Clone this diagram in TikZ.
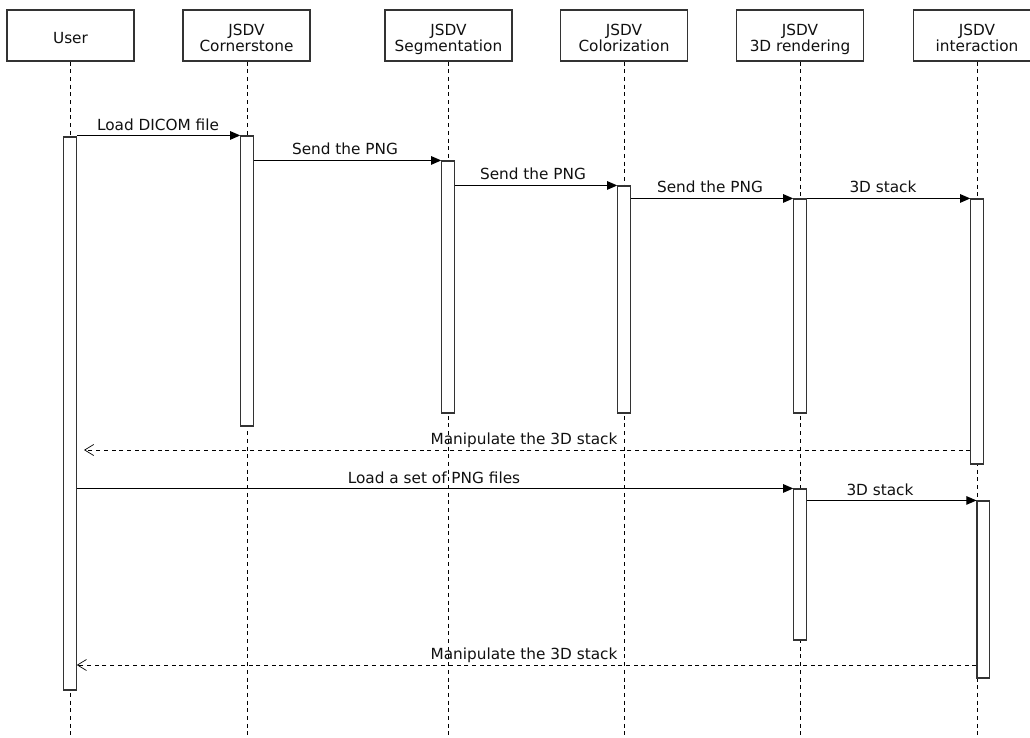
\documentclass[tikz,border=0pt]{standalone}
\usepackage{fontspec}
\setmainfont{DejaVu Sans}
\usetikzlibrary{arrows.meta}
\definecolor{ln}{HTML}{333333}
\definecolor{tx}{HTML}{111111}
\begin{document}
\begin{tikzpicture}[x=1pt,y=-1pt,
  font=\fontsize{15.3}{16}\selectfont,
  actor/.style={draw=ln,line width=1.1pt,fill=white,minimum width=127pt,minimum height=51pt,inner sep=0pt},
  atext/.style={anchor=north,align=center,inner sep=0pt,text=tx},
  life/.style={draw=black,line width=1pt,dash pattern=on 4pt off 3.7pt},
  bar/.style={draw=ln,line width=1.1pt,fill=white,minimum width=12.5pt,inner sep=0pt},
  msg/.style={draw=black,line width=0.9pt,-{Triangle[length=10pt,width=8.5pt]}},
  ret/.style={draw=black,line width=0.9pt,dash pattern=on 4pt off 3.7pt,-{Straight Barb[length=9pt,width=11pt,line width=0.7pt]}},
  lbl/.style={anchor=base,inner sep=0pt,text=tx}]
\useasboundingbox (0,0) rectangle (1030,738);
\fill[white] (0,0) rectangle (1030,738);
% actors
\node[actor] (u) at (70.5,35.5) {};
\node[actor] (c) at (246.5,35.5) {};
\node[actor] (s) at (448.5,35.5) {};
\node[actor] (z) at (624,35.5) {};
\node[actor] (r) at (800,35.5) {};
\node[actor] (i) at (977,35.5) {};
\node[atext] (ut) at (70.5,32) {User};
\node[atext] (ct) at (246.5,24) {JSDV\\Cornerstone};
\node[atext] (st) at (448.5,24) {JSDV\\Segmentation};
\node[atext] (zt) at (624,24) {JSDV\\Colorization};
\node[atext] (rt) at (800,24) {JSDV\\3D rendering};
\node[atext] (it) at (977,24) {JSDV\\interaction};
% lifeline ends
\coordinate (ue) at (70,740);
\coordinate (ce) at (247,740);
\coordinate (se) at (448,740);
\coordinate (ze) at (624,740);
\coordinate (re) at (800,740);
\coordinate (ie) at (977,740);
\draw[life] (u.south -| ue) -- (ue);
\draw[life] (c.south -| ce) -- (ce);
\draw[life] (s.south -| se) -- (se);
\draw[life] (z.south -| ze) -- (ze);
\draw[life] (r.south -| re) -- (re);
\draw[life] (i.south -| ie) -- (ie);
% activation bars
\node[bar,minimum height=553pt] (ub) at (70,413.5) {};
\node[bar,minimum height=290pt] (cb) at (247,281) {};
\node[bar,minimum height=252pt] (sb) at (448,287) {};
\node[bar,minimum height=227pt] (zb) at (624,299.5) {};
\node[bar,minimum height=214pt] (rb1) at (800,306) {};
\node[bar,minimum height=265pt] (ib1) at (977,331.5) {};
\node[bar,minimum height=151pt] (rb2) at (800,564.5) {};
\node[bar,minimum height=177pt] (ib2) at (983.25,589.5) {};
% messages
\draw[msg] (ub.east |- cb.north) -- (cb.north west);
\node[lbl] (l1) at (158,131) {Load DICOM file};
\draw[msg] (cb.east |- sb.north) -- (sb.north west);
\node[lbl] (l2) at (345,155) {Send the PNG};
\draw[msg] (sb.east |- zb.north) -- (zb.north west);
\node[lbl] (l3) at (533,180) {Send the PNG};
\draw[msg] (zb.east |- rb1.north) -- (rb1.north west);
\node[lbl] (l4) at (710,193) {Send the PNG};
\draw[msg] (rb1.north east) -- (ib1.north west);
\node[lbl] (l5) at (883,193) {3D stack};
\coordinate (m1e) at (84,450);
\draw[ret] (ib1.west |- m1e) -- (m1e);
\node[lbl] (l6) at (524,444) {Manipulate the 3D stack};
\draw[msg] (ub.east |- rb2.north) -- (rb2.north west);
\node[lbl] (l7) at (434,483) {Load a set of PNG files};
\draw[msg] (rb2.east |- ib2.north) -- (ib2.north west);
\node[lbl] (l8) at (880,495) {3D stack};
\coordinate (m2y) at (0,665);
\draw[ret] (ib2.west |- m2y) -- (ub.east |- m2y);
\node[lbl] (l9) at (524,659) {Manipulate the 3D stack};
\end{tikzpicture}
\end{document}
